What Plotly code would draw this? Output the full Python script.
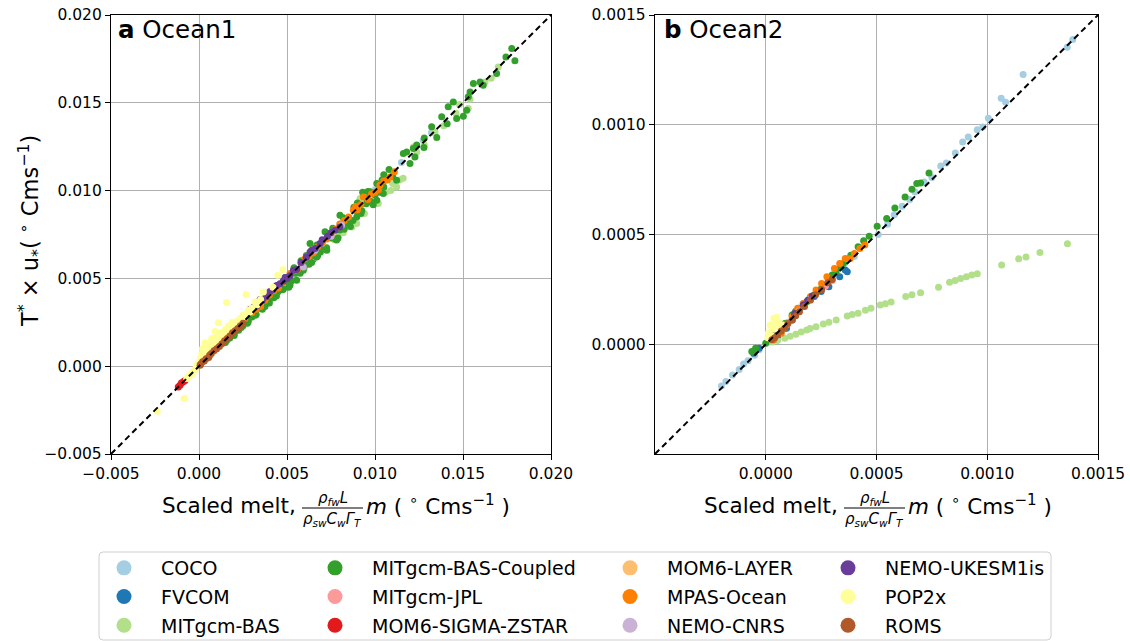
import plotly.graph_objects as go

W, H = 1130, 641
FONT = "DejaVu Sans"
UNIT = 1e-3  # all values below are given in units of 10^-3 degC m s^-1

MODELS = ["COCO", "FVCOM", "MITgcm-BAS", "MITgcm-BAS-Coupled", "MITgcm-JPL",
          "MOM6-SIGMA-ZSTAR", "MOM6-LAYER", "MPAS-Ocean", "NEMO-CNRS",
          "NEMO-UKESM1is", "POP2x", "ROMS"]
COLORS = ["#a6cee3", "#1f78b4", "#b2df8a", "#33a02c", "#fb9a99", "#e31a1c",
          "#fdbf6f", "#ff7f00", "#cab2d6", "#6a3d9a", "#ffff99", "#b15928"]

# ---------------- Ocean1 (panel a): (scaled melt, T* x u*) ----------------
O1_COCO = [(1.0, 1.0), (2.5, 2.55), (4.0, 4.0), (6.0, 6.05), (8.0, 8.0), (10.0, 10.05),
           (11.5, 11.6), (12.3, 12.4), (12.74, 12.87), (13.2, 13.3)]
O1_FVCOM = [(5.0, 4.7), (6.5, 6.1), (3.9, 3.6)]
O1_MITBAS = [(17.0, 17.04), (16.25, 16.19), (15.3, 14.68), (15.4, 15.2), (14.6, 14.4),
             (13.41, 13.34), (12.37, 12.2), (12.18, 12.49), (11.23, 10.21), (11.6, 10.7),
             (10.19, 9.27), (9.15, 9.55), (8.96, 8.13), (8.68, 7.93), (8.2, 7.6), (7.7, 7.2),
             (7.2, 6.7), (6.6, 6.2), (6.0, 5.6), (5.4, 5.0), (4.8, 4.5), (4.2, 3.9),
             (3.6, 3.35), (3.0, 2.8), (2.4, 2.25), (1.8, 1.7), (1.2, 1.15), (0.6, 0.6),
             (10.6, 9.9), (9.8, 9.3), (11.0, 10.4), (10.9, 10.0), (11.4, 10.6), (12.8, 12.6),
             (13.9, 13.7), (14.8, 14.9), (16.6, 16.4), (9.4, 8.7), (7.9, 7.4), (6.3, 5.9),
             (5.1, 4.75), (3.9, 3.65), (2.7, 2.5), (1.5, 1.4)]
O1_MITBASC = [(17.77, 18.09), (17.95, 17.39), (17.44, 17.61), (16.91, 16.67), (15.97, 16.19),
              (15.59, 16.1), (16.15, 16.0), (15.3, 15.34), (14.45, 15.05), (14.16, 14.77),
              (14.64, 14.11), (15.02, 14.24), (13.79, 14.2), (13.22, 13.63), (13.51, 13.02),
              (12.78, 12.45), (12.18, 12.4), (11.8, 12.2), (12.27, 11.92), (15.21, 14.58),
              (15.4, 15.62), (12.37, 12.59), (11.99, 11.54), (11.61, 12.11), (11.23, 10.59),
              (10.47, 9.83), (10.1, 10.4), (9.72, 9.93), (9.53, 9.55), (10.1, 9.45),
              (8.96, 8.5), (8.01, 8.6), (8.39, 8.13), (7.44, 7.56), (7.82, 7.18), (6.69, 6.22),
              (7.26, 6.61), (6.12, 5.85), (5.93, 5.47), (5.55, 4.9), (5.17, 4.61), (6.31, 6.99),
              (7.16, 7.65), (8.6, 8.3), (9.2, 8.7), (9.9, 9.2), (6.9, 6.5), (4.8, 4.4),
              (4.4, 4.0), (4.0, 3.6), (3.6, 3.25), (3.2, 2.9), (2.8, 2.55), (2.4, 2.2),
              (2.0, 1.85), (1.6, 1.5), (4.6, 4.6), (5.8, 6.0), (3.8, 3.8), (8.8, 9.05),
              (9.3, 9.9), (10.5, 10.9), (11.0, 10.8), (12.8, 13.0), (14.1, 13.8), (10.8, 11.2),
              (1.5, 1.35), (1.75, 1.6), (2.0, 1.75), (2.25, 2.05), (2.5, 2.3), (2.75, 2.45),
              (3.0, 2.8), (3.25, 2.95), (3.5, 3.3), (3.75, 3.4), (4.0, 3.8), (4.25, 3.9),
              (4.5, 4.25), (4.75, 4.35), (5.0, 4.8), (5.25, 4.85), (5.5, 5.3), (5.75, 5.3),
              (6.0, 5.75), (6.25, 5.8), (6.5, 6.3), (6.75, 6.3), (7.0, 6.8), (7.25, 6.75),
              (7.5, 7.3), (7.75, 7.25), (8.0, 7.75), (8.25, 7.8), (8.5, 8.2), (8.75, 8.3),
              (9.0, 8.8), (9.25, 8.85), (9.5, 9.25), (9.75, 9.4), (10.0, 9.75), (10.25, 9.9),
              (10.5, 10.2), (3.4, 3.45), (4.9, 5.05), (5.4, 5.6), (6.1, 6.3), (6.7, 6.9),
              (7.6, 7.85), (8.2, 8.45), (9.0, 9.3), (9.6, 9.95), (10.4, 10.6), (2.2, 2.25),
              (2.7, 2.75), (5.1, 4.5), (6.4, 5.9), (7.9, 7.3), (8.6, 7.95)]
O1_MITJPL = [(6.5, 6.55), (7.0, 7.0), (4.5, 4.5)]
O1_MOM6SZ = [(-1.08, -1.08), (-0.89, -0.89), (-1.18, -1.18), (-1.0, -0.95), (-0.8, -0.82)]
O1_MOM6L = [(3.5, 3.5), (7.5, 7.5), (9.0, 9.0)]
O1_MPAS = [(2.6, 2.7), (3.0, 3.05), (3.5, 3.4), (4.0, 4.05), (4.5, 4.45), (5.17, 5.28),
           (5.6, 5.5), (6.0, 6.1), (6.5, 6.45), (7.0, 7.05), (7.5, 7.4), (8.0, 8.1),
           (8.77, 8.88), (9.34, 9.64), (9.0, 8.9), (9.6, 9.5), (10.28, 10.3), (10.85, 10.78),
           (11.1, 11.07), (10.0, 9.9), (3.25, 3.25), (3.75, 3.75), (4.25, 4.3), (4.75, 4.75),
           (5.4, 5.45), (5.8, 5.85), (6.25, 6.25), (6.75, 6.8), (7.25, 7.25), (7.75, 7.8),
           (8.25, 8.3), (8.5, 8.5), (9.2, 9.2), (9.8, 9.8), (10.5, 10.55), (10.7, 10.6),
           (10.2, 10.05), (8.9, 9.1)]
O1_NEMOC = [(8.1, 8.03), (5.93, 5.65), (7.5, 7.4), (6.6, 6.6)]
O1_NEMOU = [(2.9, 3.25), (3.1, 3.35), (3.47, 3.8), (3.6, 3.75), (4.03, 4.25), (4.41, 4.6),
            (4.79, 4.85), (5.0, 5.0), (5.17, 5.15), (5.36, 5.47), (5.55, 5.5), (6.31, 6.51),
            (6.6, 6.7), (6.88, 6.99), (7.73, 7.74), (8.01, 7.93), (3.3, 3.45), (3.8, 3.95),
            (4.2, 4.35), (4.6, 4.7), (5.8, 5.9), (6.1, 6.2), (7.0, 7.2), (7.3, 7.4),
            (7.5, 7.6), (6.4, 6.6), (4.9, 5.05)]
O1_POP = [(1.57, 3.63), (2.67, 4.08), (1.10, 2.47), (0.91, 1.99), (0.34, 1.33), (0.72, 1.58),
          (4.47, 5.18), (4.76, 5.5), (3.65, 4.23), (3.18, 3.66), (-0.85, -1.84), (-2.37, -2.56),
          (0.25, 0.91), (1.0, 1.48), (1.76, 2.15), (2.33, 2.72), (2.8, 3.19), (-0.51, -0.51),
          (-0.32, -0.32), (0.5, 1.2), (1.3, 1.7), (2.0, 2.4), (0.1, 0.5), (-0.1, 0.1),
          (-0.7, -0.7), (3.5, 3.8), (4.2, 4.5), (0.05, 0.3), (0.15, 0.7), (0.2, 1.0),
          (0.3, 0.6), (0.4, 0.9), (0.5, 0.8), (0.6, 1.1), (0.65, 1.35), (0.8, 1.2),
          (0.85, 1.5), (0.95, 1.3), (1.15, 1.6), (1.2, 1.9), (1.4, 1.8), (1.5, 2.1),
          (1.6, 1.95), (1.7, 2.3), (1.85, 2.2), (1.9, 2.5), (2.1, 2.45), (2.2, 2.6),
          (2.4, 2.65), (2.5, 2.9), (2.6, 2.8), (2.9, 3.1), (3.0, 3.3), (3.3, 3.5),
          (0.3, 1.1), (0.45, 1.25), (1.0, 1.75), (-0.2, -0.15), (-0.4, -0.45), (-0.6, -0.55),
          (0.0, 0.15), (0.1, 0.25)]
O1_ROMS = [(0.06, 0.06), (0.2, 0.25), (0.4, 0.42), (0.7, 0.72), (1.0, 1.0), (1.3, 1.28),
           (1.6, 1.58), (1.9, 1.9), (2.2, 2.15), (0.55, 0.5), (0.85, 0.88), (1.45, 1.45),
           (1.75, 1.72), (2.05, 2.02), (2.35, 2.3), (0.1, 0.12), (0.3, 0.3), (0.6, 0.62),
           (1.15, 1.12), (2.5, 2.45)]

# ---------------- Ocean2 (panel b) ----------------
O2_COCO = [(-0.20, -0.19), (-0.18, -0.17), (-0.15, -0.14), (-0.12, -0.115), (-0.10, -0.09),
           (-0.08, -0.075), (-0.05, -0.05), (-0.03, -0.025), (0.02, 0.02), (0.10, 0.10),
           (0.20, 0.20), (0.30, 0.30), (0.40, 0.40), (0.508, 0.50), (0.55, 0.547),
           (0.58, 0.59), (0.616, 0.629), (0.65, 0.66), (0.674, 0.694), (0.715, 0.739),
           (0.75, 0.76), (0.79, 0.812), (0.815, 0.826), (0.856, 0.871), (0.889, 0.921),
           (0.914, 0.944), (0.955, 0.977), (0.98, 0.99), (1.005, 1.03), (1.063, 1.121),
           (1.083, 1.103), (1.162, 1.229), (1.361, 1.353), (1.386, 1.388)]
O2_FVCOM = [(0.359, 0.338), (0.368, 0.33), (0.334, 0.308), (0.285, 0.262), (0.219, 0.217),
            (0.152, 0.156), (0.094, 0.073), (0.053, 0.035), (-0.03, -0.018), (-0.055, -0.041),
            (0.12, 0.11), (0.25, 0.24)]
O2_MITBAS = [(1.362, 0.458), (1.238, 0.418), (1.175, 0.397), (1.142, 0.389), (1.065, 0.361),
             (0.955, 0.321), (0.93, 0.315), (0.906, 0.308), (0.88, 0.30), (0.855, 0.29),
             (0.83, 0.283), (0.78, 0.26), (0.699, 0.235), (0.66, 0.225), (0.632, 0.217),
             (0.566, 0.192), (0.54, 0.185), (0.517, 0.179), (0.475, 0.164), (0.45, 0.155),
             (0.417, 0.141), (0.39, 0.135), (0.368, 0.129), (0.318, 0.111), (0.285, 0.10),
             (0.26, 0.092), (0.227, 0.08), (0.20, 0.072), (0.185, 0.065), (0.16, 0.056),
             (0.136, 0.045), (0.11, 0.036), (0.086, 0.027), (0.053, 0.017), (0.03, 0.01)]
O2_MITBASC = [(0.737, 0.78), (0.699, 0.735), (0.682, 0.732), (0.66, 0.706), (0.629, 0.671),
              (0.583, 0.621), (0.546, 0.573), (0.503, 0.538), (0.467, 0.492), (0.442, 0.471),
              (0.417, 0.444), (0.384, 0.406), (0.351, 0.368), (0.318, 0.33), (0.285, 0.292),
              (0.252, 0.255), (0.219, 0.224), (0.185, 0.194), (0.152, 0.164), (0.119, 0.133),
              (0.086, 0.095), (-0.046, -0.018), (-0.063, -0.033), (0.03, 0.04), (0.0, 0.005),
              (0.235, 0.245), (0.30, 0.315), (0.335, 0.35), (0.2, 0.212), (0.135, 0.15)]
O2_MITJPL = [(0.30, 0.29), (0.27, 0.265)]
O2_MOM6SZ = []
O2_MOM6L = []
O2_MPAS = [(0.447, 0.452), (0.425, 0.436), (0.40, 0.414), (0.38, 0.39), (0.359, 0.391),
           (0.334, 0.368), (0.31, 0.345), (0.276, 0.308), (0.252, 0.277), (0.227, 0.247),
           (0.202, 0.217), (0.169, 0.186), (0.144, 0.164), (0.119, 0.126), (0.094, 0.088),
           (0.07, 0.05), (0.036, 0.02)]
O2_NEMOC = [(0.2, 0.205), (0.15, 0.15)]
O2_NEMOU = [(0.13, 0.14), (0.17, 0.18), (0.19, 0.20), (0.21, 0.22)]
O2_POP = [(0.05, 0.123), (0.045, 0.11), (0.036, 0.118), (0.02, 0.088), (0.053, 0.08),
          (0.012, 0.05), (0.03, 0.07), (0.07, 0.065), (0.078, 0.088), (0.06, 0.10),
          (0.04, 0.095), (0.01, 0.03), (0.025, 0.04)]
O2_ROMS = [(0.028, 0.02), (0.053, 0.042), (0.086, 0.073), (0.119, 0.11), (0.152, 0.148),
           (0.202, 0.202), (0.252, 0.25), (0.04, 0.03), (0.07, 0.06), (0.10, 0.095),
           (0.135, 0.13), (0.175, 0.172), (0.225, 0.225), (0.28, 0.28), (0.3, 0.295)]

OCEAN1 = [O1_COCO, O1_FVCOM, O1_MITBAS, O1_MITBASC, O1_MITJPL, O1_MOM6SZ, O1_MOM6L,
          O1_MPAS, O1_NEMOC, O1_NEMOU, O1_POP, O1_ROMS]
OCEAN2 = [O2_COCO, O2_FVCOM, O2_MITBAS, O2_MITBASC, O2_MITJPL, O2_MOM6SZ, O2_MOM6L,
          O2_MPAS, O2_NEMOC, O2_NEMOU, O2_POP, O2_ROMS]

# axes
A_RANGE = [-0.005, 0.020]
A_TICKS = [-0.005, 0.000, 0.005, 0.010, 0.015, 0.020]
A_TICKTEXT = ["\u22120.005", "0.000", "0.005", "0.010", "0.015", "0.020"]
B_RANGE = [-0.0005, 0.0015]
B_TICKS = [0.0000, 0.0005, 0.0010, 0.0015]
B_TICKTEXT = ["0.0000", "0.0005", "0.0010", "0.0015"]

fig = go.Figure()

for panel, data, xa, ya in [("a", OCEAN1, "x", "y"), ("b", OCEAN2, "x2", "y2")]:
    for name, col, pts in zip(MODELS, COLORS, data):
        xs = [p[0] * UNIT for p in pts]
        ys = [p[1] * UNIT for p in pts]
        fig.add_trace(go.Scatter(x=xs, y=ys, mode="markers", name=name,
                                 marker=dict(color=col, size=7, line=dict(width=0)),
                                 showlegend=False, xaxis=xa, yaxis=ya))

# 1:1 lines
for rng, xa, ya in [(A_RANGE, "x", "y"), (B_RANGE, "x2", "y2")]:
    fig.add_trace(go.Scatter(x=rng, y=rng, mode="lines", xaxis=xa, yaxis=ya,
                             line=dict(color="black", width=2, dash="6px,4px"),
                             showlegend=False, hoverinfo="skip"))

# legend entries (4 columns, 3 rows, column-major as in the reference)
LEG_IDS = ["legend", "legend2", "legend3", "legend4"]
for i, (name, col) in enumerate(zip(MODELS, COLORS)):
    fig.add_trace(go.Scatter(x=[None], y=[None], mode="markers", name=name,
                             marker=dict(color=col, size=15), legend=LEG_IDS[i // 3],
                             legendgroup="g" + str(i), showlegend=True, xaxis="x", yaxis="y"))

ITEMW = 64
TEXT_X = [161, 372, 667, 885]  # legend text starts in px
leg_common = dict(orientation="v", bgcolor="rgba(0,0,0,0)", borderwidth=0,
                  font=dict(family=FONT, size=19, color="black"),
                  itemwidth=ITEMW, itemsizing="trace", tracegroupgap=1,
                  yanchor="top", xanchor="left", y=1 - 549 / H)
layout_legends = {}
for lid, tx in zip(LEG_IDS, TEXT_X):
    layout_legends[lid] = dict(leg_common, x=(tx - ITEMW - 10) / W)

axis_common = dict(showgrid=True, gridcolor="#b0b0b0", gridwidth=1, zeroline=False,
                   showline=True, linecolor="black", linewidth=1.3, mirror=True,
                   ticks="outside", ticklen=5, tickwidth=1.2, tickcolor="black",
                   tickfont=dict(family=FONT, size=15.5, color="black"), tickmode="array")

ydom = [1 - 454 / H, 1 - 15 / H]
fig.update_layout(
    width=W, height=H, margin=dict(l=0, r=0, t=0, b=0, autoexpand=False),
    paper_bgcolor="white", plot_bgcolor="white",
    font=dict(family=FONT, color="black"),
    xaxis=dict(axis_common, domain=[111 / W, 551 / W], range=A_RANGE, tickvals=A_TICKS,
               ticktext=A_TICKTEXT, anchor="y"),
    yaxis=dict(axis_common, domain=ydom, range=A_RANGE, tickvals=A_TICKS,
               ticktext=A_TICKTEXT, anchor="x"),
    xaxis2=dict(axis_common, domain=[655 / W, 1098 / W], range=B_RANGE, tickvals=B_TICKS,
                ticktext=B_TICKTEXT, anchor="y2"),
    yaxis2=dict(axis_common, domain=ydom, range=B_RANGE, tickvals=B_TICKS,
                ticktext=B_TICKTEXT, anchor="x2"),
    **layout_legends,
)

def px(x):
    return x / W

def py(y):
    return 1 - y / H

ann = []
# panel labels
ann.append(dict(text="<b>a</b> Ocean1", x=px(116), y=py(30), xanchor="left", yanchor="middle",
                font=dict(size=24.5)))
ann.append(dict(text="<b>b</b> Ocean2", x=px(662), y=py(30), xanchor="left", yanchor="middle",
                font=dict(size=24.5)))
# y title
ann.append(dict(text="T<sup>*</sup> \u00d7 u<sub>*</sub>( <sup>\u2218</sup> Cms<sup>\u22121</sup>)",
                x=px(30), y=py(231), textangle=-90, xanchor="center", yanchor="middle",
                font=dict(size=22.5)))
# x titles with fraction
shapes = []
for fl, fr in [(302, 363), (844, 905)]:
    fc = (fl + fr) / 2
    ann.append(dict(text="Scaled melt,", x=px(fl - 4), y=py(505), xanchor="right",
                    yanchor="middle", font=dict(size=21.5)))
    ann.append(dict(text="<i>\u03c1<sub>fw</sub>L</i>", x=px(fc), y=py(498), xanchor="center",
                    yanchor="middle", font=dict(size=15)))
    ann.append(dict(text="<i>\u03c1<sub>sw</sub>C<sub>w</sub>\u0393<sub>T</sub></i>", x=px(fc),
                    y=py(519), xanchor="center", yanchor="middle", font=dict(size=15)))
    ann.append(dict(text="<i>m</i> ( <sup>\u2218</sup> Cms<sup>\u22121</sup> )", x=px(fr + 1),
                    y=py(505), xanchor="left", yanchor="middle", font=dict(size=21.5)))
    shapes.append(dict(type="line", xref="paper", yref="paper", x0=px(fl), x1=px(fr),
                       y0=py(508), y1=py(508), line=dict(color="black", width=1)))

for a in ann:
    a.update(xref="paper", yref="paper", showarrow=False)
    a.setdefault("font", {})
    a["font"].update(family=FONT, color="black")

# legend frame (rounded)
L, R, T, B, r = 99, 1051, 552, 640, 4
path = (f"M {px(L + r)},{py(T)} L {px(R - r)},{py(T)} Q {px(R)},{py(T)} {px(R)},{py(T + r)} "
        f"L {px(R)},{py(B - r)} Q {px(R)},{py(B)} {px(R - r)},{py(B)} "
        f"L {px(L + r)},{py(B)} Q {px(L)},{py(B)} {px(L)},{py(B - r)} "
        f"L {px(L)},{py(T + r)} Q {px(L)},{py(T)} {px(L + r)},{py(T)} Z")
shapes.append(dict(type="path", path=path, xref="paper", yref="paper",
                   line=dict(color="#d0d0d0", width=1)))

fig.update_layout(annotations=ann, shapes=shapes)
fig.write_html("out.html")
